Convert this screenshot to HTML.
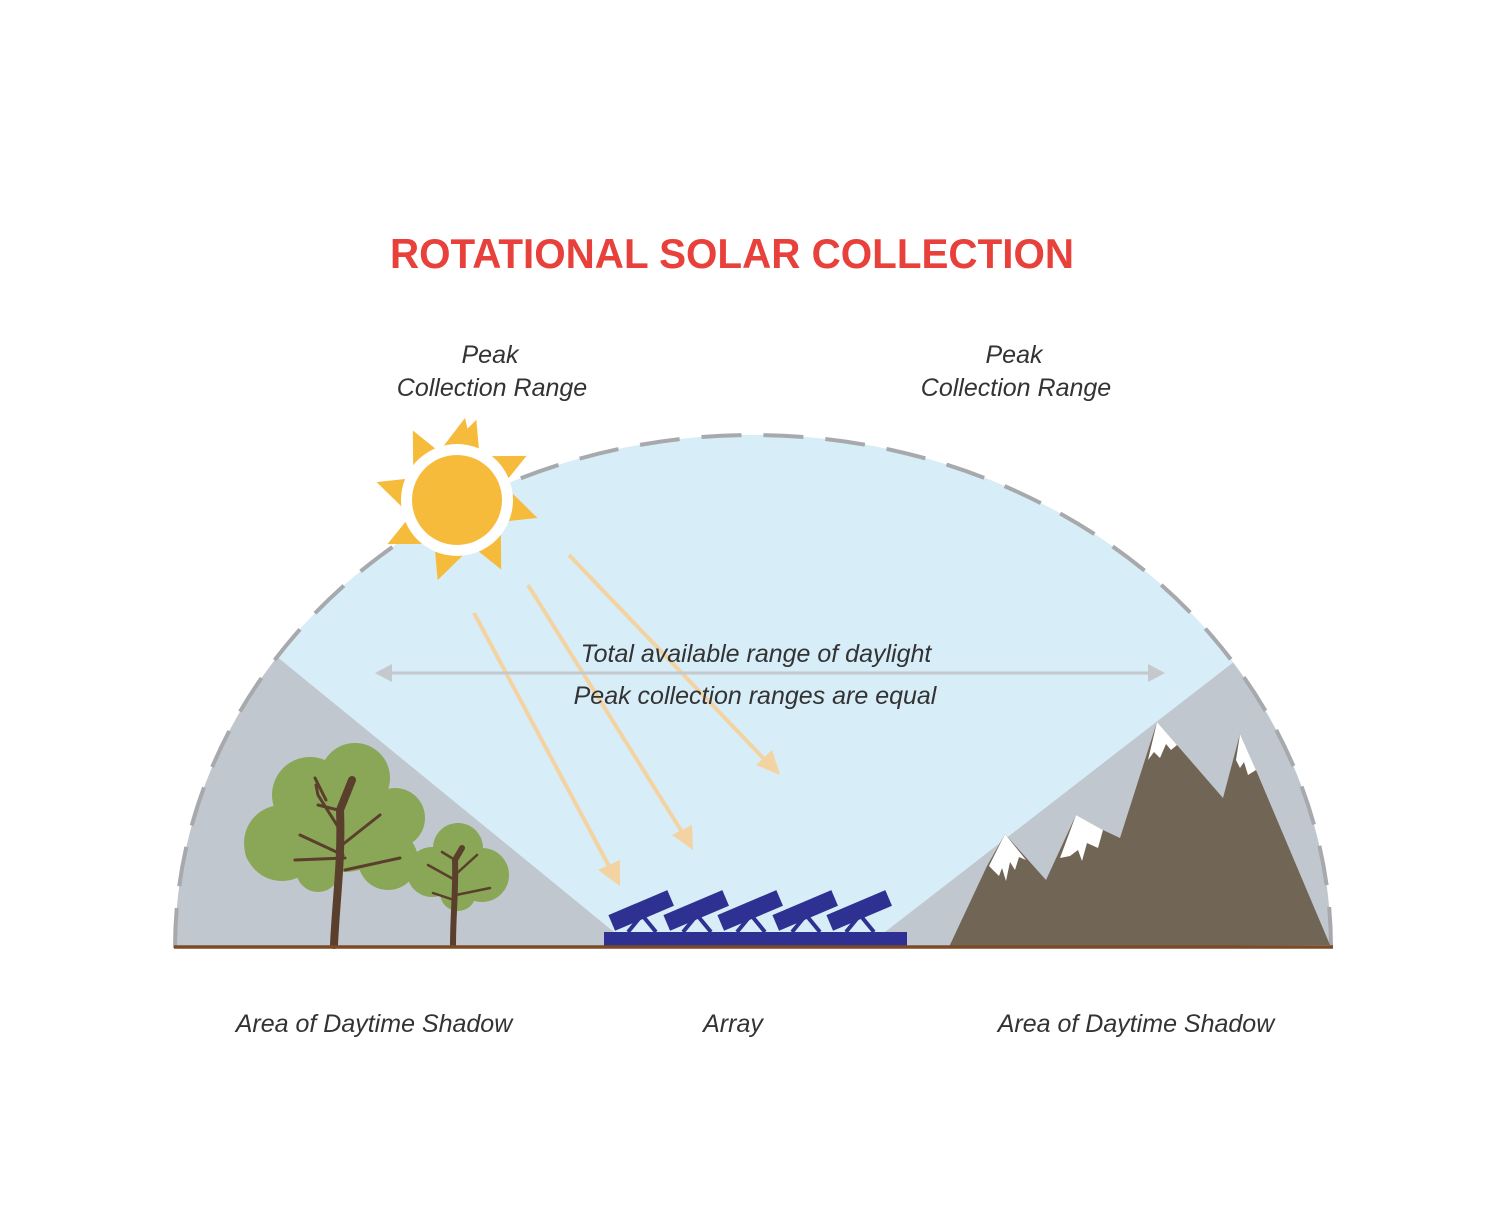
<!DOCTYPE html>
<html><head><meta charset="utf-8"><style>
html,body{margin:0;padding:0;background:#fff;}
svg{display:block;}
.t{font-family:"Liberation Sans",sans-serif;font-style:italic;fill:#333;font-size:25px;}
</style></head><body>
<svg width="1507" height="1227" viewBox="0 0 1507 1227" xmlns="http://www.w3.org/2000/svg">
<defs>
<clipPath id="dome"><path d="M175,948 A578,513 0 0 1 1331,948 Z"/></clipPath>
</defs>
<text x="732" y="268" text-anchor="middle" textLength="684" lengthAdjust="spacingAndGlyphs" font-family="Liberation Sans, sans-serif" font-weight="bold" font-size="42" fill="#e8403a">ROTATIONAL SOLAR COLLECTION</text>
<text class="t" x="490" y="363" text-anchor="middle">Peak</text>
<text class="t" x="492" y="396" text-anchor="middle">Collection Range</text>
<text class="t" x="1014" y="363" text-anchor="middle">Peak</text>
<text class="t" x="1016" y="396" text-anchor="middle">Collection Range</text>

<g clip-path="url(#dome)">
<rect x="170" y="420" width="1170" height="540" fill="#c1c7ce"/>
<polygon points="150,553 614,932 885,932 1350,572 1350,400 150,400" fill="#d7edf7"/>
</g>
<path d="M175,948 A578,513 0 0 1 1331,948" fill="none" stroke="#a7a9ac" stroke-width="4" stroke-dasharray="40,22"/>

<!-- trees -->
<g fill="#8aa657">
<circle cx="355" cy="778" r="35"/><circle cx="310" cy="795" r="38"/><circle cx="282" cy="843" r="38"/>
<circle cx="345" cy="822" r="50"/><circle cx="395" cy="818" r="30"/><circle cx="318" cy="870" r="22"/>
<circle cx="388" cy="860" r="30"/><circle cx="265" cy="850" r="20"/>
<circle cx="458" cy="848" r="25"/><circle cx="432" cy="872" r="25"/><circle cx="482" cy="875" r="27"/><circle cx="458" cy="893" r="18"/>
</g>
<g stroke="#5a3f2d" fill="none" stroke-linecap="round">
<path d="M334,945 C336,900 342,860 340,810 L352,780" stroke-width="8"/>
<path d="M340,830 L318,795 L316,785 M338,810 L318,805 M343,855 L300,835 M345,870 L400,858 M342,845 L380,815 M345,858 L295,860 M326,800 L315,778" stroke-width="3"/>
<path d="M453,945 C453,915 456,890 455,860 L462,848" stroke-width="6"/>
<path d="M455,880 L428,865 M456,895 L490,888 M455,875 L477,855 M454,900 L433,893 M455,860 L442,852" stroke-width="2.5"/>
</g>

<!-- mountain -->
<polygon points="949,947 987,866 1005,834 1046,880 1076,815 1103,830 1120,838 1157,722 1177,745 1223,798 1240,734 1256,770 1330,945" fill="#716556"/>
<g fill="#fff">
<polygon points="1005,834 1026,860 1019,857 1015,870 1010,862 1006,881 1002,868 999,876 989,866"/>
<polygon points="1076,815 1103,830 1098,848 1087,843 1082,861 1078,850 1070,856 1060,858"/>
<polygon points="1157,722 1177,745 1171,750 1166,744 1160,758 1154,752 1148,760"/>
<polygon points="1240,734 1256,770 1248,775 1244,762 1240,768 1236,760"/>
</g>

<!-- array -->
<g fill="#2e3192">
<rect x="604" y="932" width="303" height="14"/>
<g id="p">
<rect x="-32" y="-8" width="64" height="17" transform="translate(641,910) rotate(-23)"/>
<path d="M628,932 L642,915 L656,932" fill="none" stroke="#2e3192" stroke-width="4"/>
</g>
<use href="#p" x="55"/><use href="#p" x="109"/><use href="#p" x="164"/><use href="#p" x="218"/>
</g>
<line x1="174" y1="947" x2="1333" y2="947" stroke="#7b4a26" stroke-width="3.5"/>

<!-- light rays -->
<g stroke="#f3d3a2" stroke-width="4" fill="#f3d3a2">
<line x1="474" y1="613" x2="610" y2="868"/><polygon points="620,886 598,870 620,860" stroke="none"/>
<line x1="528" y1="585" x2="682" y2="832"/><polygon points="693,850 672,835 692,825" stroke="none"/>
<line x1="569" y1="555" x2="765" y2="760"/><polygon points="780,775 756,765 772,750" stroke="none"/>
</g>

<!-- horizontal arrow -->
<g stroke="#c5c8cc" stroke-width="3" fill="#c5c8cc">
<line x1="385" y1="673" x2="1155" y2="673"/>
<polygon points="375,673 392,664 392,682" stroke="none"/>
<polygon points="1165,673 1148,664 1148,682" stroke="none"/>
</g>
<text class="t" x="756" y="662" text-anchor="middle">Total available range of daylight</text>
<text class="t" x="755" y="704" text-anchor="middle">Peak collection ranges are equal</text>

<!-- sun -->
<g transform="translate(457,500)" fill="#f6bb3b">
<g id="ray"><polygon points="-15,-52 15,-52 8,-82"/></g>
<use href="#ray" transform="rotate(-38)"/>
<use href="#ray" transform="rotate(8)"/>
<use href="#ray" transform="rotate(52)"/>
<use href="#ray" transform="rotate(97)"/>
<use href="#ray" transform="rotate(142)"/>
<use href="#ray" transform="rotate(188)"/>
<use href="#ray" transform="rotate(232)"/>
<use href="#ray" transform="rotate(277)"/>
<circle r="56" fill="#fff"/>
<circle r="45"/>
</g>

<text class="t" x="374" y="1032" text-anchor="middle">Area of Daytime Shadow</text>
<text class="t" x="733" y="1032" text-anchor="middle">Array</text>
<text class="t" x="1136" y="1032" text-anchor="middle">Area of Daytime Shadow</text>
</svg>
</body></html>
